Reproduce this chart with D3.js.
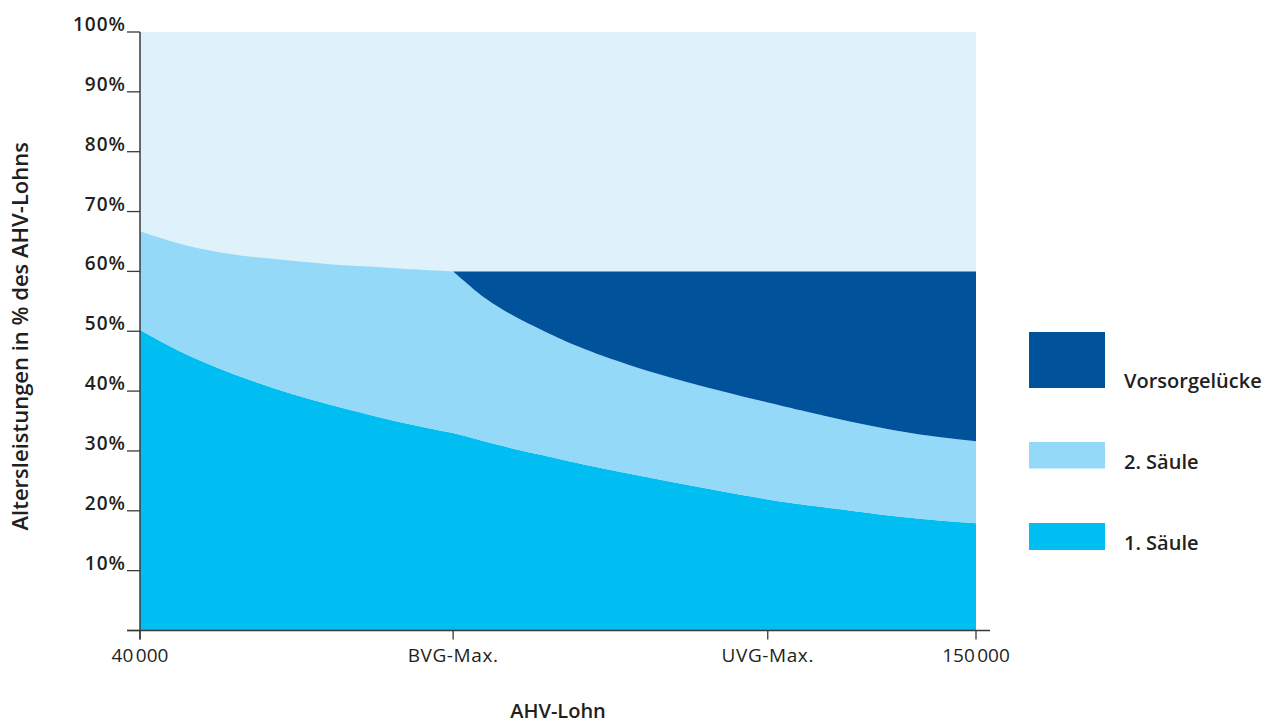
<!DOCTYPE html>
<html>
<head>
<meta charset="utf-8">
<script src="https://cdn.jsdelivr.net/npm/d3@7"></script>
<style>
  body { margin: 0; background: #fff; }
  text { font-family: "Open Sans", sans-serif; fill: #231f20; }
</style>
</head>
<body>
<div id="chart"></div>
<script>
// AHV-Lohn sample points (CHF)
var salaries = [40000, 45000, 50000, 55000, 60000, 65000, 70000, 75000, 81200,
  83000, 85000, 87500, 90000, 95000, 100000, 110000, 122600, 130000, 140000, 150000];

// Altersleistungen in % des AHV-Lohns
var saeule1 = [50.2, 46.8, 44.0, 41.6, 39.5, 37.7, 36.1, 34.6, 33.0,
  32.4, 31.7, 30.9, 30.1, 28.7, 27.3, 24.8, 21.9, 20.6, 19.0, 17.9];
var saeule2 = [16.5, 17.9, 19.3, 20.8, 22.3, 23.5, 24.7, 25.8, 27.0,
  25.6, 24.2, 22.9, 21.9, 20.2, 19.0, 17.4, 16.2, 15.3, 14.3, 13.7];
var luecke = [0, 0, 0, 0, 0, 0, 0, 0, 0,
  2.0, 4.1, 6.2, 8.0, 11.1, 13.7, 17.8, 21.9, 24.1, 26.7, 28.4];

var bvgMax = 81200;
var uvgMax = 122600;

var xTickValues = [40000, bvgMax, uvgMax, 150000];
var xTickLabels = ["40\u202F000", "BVG-Max.", "UVG-Max.", "150\u202F000"];
var yTickValues = [10, 20, 30, 40, 50, 60, 70, 80, 90, 100];

var seriesKeys = ["s1", "s2", "gap"];
var seriesNames = ["1. Säule", "2. Säule", "Vorsorgelücke"];
var colors = { s1: "#00bdf2", s2: "#95d9f8", gap: "#00529b" };
var bgColor = "#dff2fb";

// svg container
var svgWidth = 1271;
var svgHeight = 722;

var margin = { top: 32, right: 295, bottom: 91.5, left: 140 };
var chartWidth = svgWidth - margin.left - margin.right;
var chartHeight = svgHeight - margin.top - margin.bottom;

var svg = d3.select("#chart").append("svg")
  .attr("width", svgWidth)
  .attr("height", svgHeight);

var chartGroup = svg.append("g")
  .attr("transform", `translate(${margin.left}, ${margin.top})`);

var rows = salaries.map(function(s, i) {
  return { salary: s, s1: saeule1[i], s2: saeule2[i], gap: luecke[i] };
});

var xScale = d3.scaleLinear().domain([40000, 150000]).range([0, chartWidth]);
var yScale = d3.scaleLinear().domain([0, 100]).range([chartHeight, 0]);

var stacked = d3.stack().keys(seriesKeys)(rows);

// background (rest up to 100%)
chartGroup.append("rect")
  .attr("x", xScale(40000))
  .attr("y", yScale(100))
  .attr("width", xScale(150000) - xScale(40000))
  .attr("height", yScale(0) - yScale(100))
  .attr("fill", bgColor);

var area = d3.area()
  .curve(d3.curveNatural)
  .x(d => xScale(d.data.salary))
  .y0(d => yScale(d[0]))
  .y1(d => yScale(d[1]));

// the curves break at BVG-Max., so each side is curved on its own
// and both parts go into one path
stacked.forEach(function(layer) {
  var left = layer.filter(d => d.data.salary <= bvgMax);
  var right = layer.filter(d => d.data.salary >= bvgMax);
  var d = "";
  if (d3.max(left, p => p[1] - p[0]) > 0) d += area(left);
  d += area(right);
  chartGroup.append("path")
    .attr("fill", colors[layer.key])
    .attr("d", d);
});

// axes
var axisColor = "#3a3a3a";

var yAxis = chartGroup.append("g");
yAxis.append("line")
  .attr("x1", 0).attr("x2", 0)
  .attr("y1", yScale(100)).attr("y2", chartHeight + 9)
  .attr("stroke", axisColor).attr("stroke-width", 1.5);

yAxis.selectAll(".ytick")
  .data([0].concat(yTickValues))
  .enter()
  .append("line")
  .attr("x1", -13).attr("x2", 0)
  .attr("y1", d => yScale(d)).attr("y2", d => yScale(d))
  .attr("stroke", axisColor).attr("stroke-width", 1.3);

yAxis.selectAll(".ylabel")
  .data(yTickValues)
  .enter()
  .append("text")
  .attr("x", -14)
  .attr("y", d => yScale(d) - 1)
  .attr("text-anchor", "end")
  .attr("font-size", "19px")
  .attr("font-weight", 600)
  .attr("letter-spacing", "1px")
  .text(d => d + "%");

var xAxis = chartGroup.append("g")
  .attr("transform", `translate(0, ${chartHeight})`);
xAxis.append("line")
  .attr("x1", -13).attr("x2", chartWidth + 14)
  .attr("y1", 0).attr("y2", 0)
  .attr("stroke", axisColor).attr("stroke-width", 1.5);

xAxis.selectAll(".xtick")
  .data(xTickValues)
  .enter()
  .append("line")
  .attr("x1", d => xScale(d)).attr("x2", d => xScale(d))
  .attr("y1", 0).attr("y2", 9)
  .attr("stroke", axisColor).attr("stroke-width", 1.3);

xAxis.selectAll(".xlabel")
  .data(xTickValues)
  .enter()
  .append("text")
  .attr("x", d => xScale(d))
  .attr("y", 31)
  .attr("text-anchor", "middle")
  .attr("font-size", "19px")
  .attr("letter-spacing", "0.6px")
  .text((d, i) => xTickLabels[i]);

// axis titles
chartGroup.append("text")
  .attr("x", chartWidth / 2)
  .attr("y", chartHeight + 87)
  .attr("text-anchor", "middle")
  .attr("font-size", "20px")
  .attr("font-weight", 600)
  .text("AHV-Lohn");

chartGroup.append("text")
  .attr("transform", "rotate(-90)")
  .attr("x", -(chartHeight / 2) - 5)
  .attr("y", -112)
  .attr("text-anchor", "middle")
  .attr("font-size", "22px")
  .attr("font-weight", 600)
  .text("Altersleistungen in % des AHV-Lohns");

// legend
var legendItems = [
  { key: "gap", name: seriesNames[2], top: 332, h: 56 },
  { key: "s2", name: seriesNames[1], top: 442, h: 26.5 },
  { key: "s1", name: seriesNames[0], top: 523, h: 27 }
];

var legend = svg.append("g");
legend.selectAll("rect")
  .data(legendItems)
  .enter()
  .append("rect")
  .attr("x", 1029)
  .attr("y", d => d.top)
  .attr("width", 76)
  .attr("height", d => d.h)
  .attr("fill", d => colors[d.key]);

legend.selectAll("text")
  .data(legendItems)
  .enter()
  .append("text")
  .attr("x", 1124)
  .attr("y", d => d.top + d.h)
  .attr("font-size", "20px")
  .attr("font-weight", 600)
  .text(d => d.name);
</script>
</body>
</html>
